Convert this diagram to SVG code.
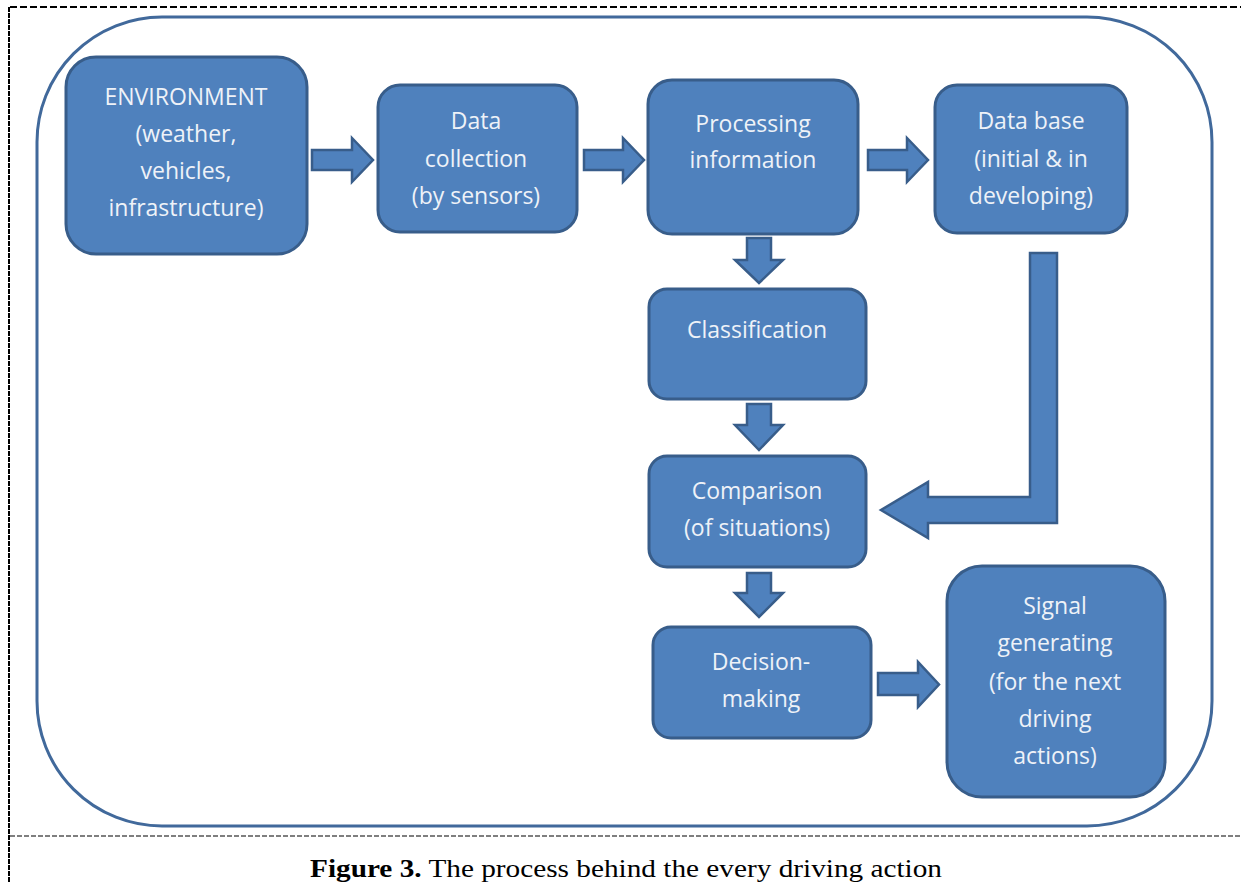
<svg xmlns="http://www.w3.org/2000/svg" width="1241" height="883" viewBox="0 0 1241 883">
<style>
.box{fill:#4f81bd;stroke:#385d8a;stroke-width:3}
.arr{fill:#4f81bd;stroke:#385d8a;stroke-width:2.5;stroke-linejoin:miter}
.t{font-family:"Open Sans","Liberation Sans",sans-serif;font-size:23px;fill:#eef2f8;text-anchor:middle}
.frame{fill:none;stroke:#000;stroke-width:2;stroke-dasharray:7 3}
</style>
<rect width="1241" height="883" fill="#fff"/>
<g id="frame">
<line class="frame" x1="10" y1="7" x2="1241" y2="7"/>
<line class="frame" x1="9" y1="7" x2="9" y2="883" style="stroke-dasharray:5 1"/>
<line class="frame" x1="10" y1="836" x2="1241" y2="836" style="stroke-width:1.2;stroke-dasharray:5 2"/>
</g>
<rect id="outer" x="37" y="17" width="1175" height="809" rx="125" ry="125" fill="none" stroke="#41699b" stroke-width="3"/>
<g id="connectors">
<polygon class="arr" points="312,150 352,150 352,138 373,160 352,182 352,170 312,170"/>
<polygon class="arr" points="584,150 623,150 623,138 644,160 623,182 623,170 584,170"/>
<polygon class="arr" points="868,150 907,150 907,138 928,160 907,182 907,170 868,170"/>
<polygon class="arr" points="878,673 918,673 918,662 939,684.5 918,707 918,695 878,695"/>
<polygon class="arr" points="747,238 771,238 771,260 783,260 759,283 735,260 747,260"/>
<polygon class="arr" points="747,404 771,404 771,425 783,425 759,450 735,425 747,425"/>
<polygon class="arr" points="747,573 771,573 771,593 783,593 759,617 735,593 747,593"/>
<polygon class="arr" points="1030,253 1057,253 1057,523 928,523 928,538 881,510 928,482 928,497 1030,497"/>
</g>
<g id="environment">
<rect class="box" x="66" y="57" width="241" height="197" rx="30"/>
<text class="t" x="186" y="105">ENVIRONMENT</text>
<text class="t" x="186" y="142">(weather,</text>
<text class="t" x="186" y="179">vehicles,</text>
<text class="t" x="186" y="216">infrastructure)</text>
</g>
<g id="data-collection">
<rect class="box" x="378" y="85" width="199" height="147" rx="22"/>
<text class="t" x="476" y="129">Data</text>
<text class="t" x="476" y="167">collection</text>
<text class="t" x="476" y="204">(by sensors)</text>
</g>
<g id="processing">
<rect class="box" x="648" y="80" width="210" height="154" rx="24"/>
<text class="t" x="753" y="132">Processing</text>
<text class="t" x="753" y="168">information</text>
</g>
<g id="data-base">
<rect class="box" x="935" y="85" width="192" height="148" rx="22"/>
<text class="t" x="1031" y="129">Data base</text>
<text class="t" x="1031" y="167">(initial &amp; in</text>
<text class="t" x="1031" y="204">developing)</text>
</g>
<g id="classification">
<rect class="box" x="649" y="289" width="217" height="110" rx="18"/>
<text class="t" x="757" y="338">Classification</text>
</g>
<g id="comparison">
<rect class="box" x="649" y="456" width="217" height="111" rx="18"/>
<text class="t" x="757" y="499">Comparison</text>
<text class="t" x="757" y="536">(of situations)</text>
</g>
<g id="decision">
<rect class="box" x="653" y="627" width="218" height="111" rx="18"/>
<text class="t" x="761" y="670">Decision-</text>
<text class="t" x="761" y="707">making</text>
</g>
<g id="signal">
<rect class="box" x="947" y="566" width="218" height="231" rx="35"/>
<text class="t" x="1055" y="614">Signal</text>
<text class="t" x="1055" y="651">generating</text>
<text class="t" x="1055" y="690">(for the next</text>
<text class="t" x="1055" y="727">driving</text>
<text class="t" x="1055" y="764">actions)</text>
</g>
<text id="caption" x="310" y="877" font-family="'Liberation Serif',serif" font-size="25" fill="#000" textLength="632" lengthAdjust="spacingAndGlyphs"><tspan font-weight="bold">Figure 3.</tspan> The process behind the every driving action</text>
</svg>
